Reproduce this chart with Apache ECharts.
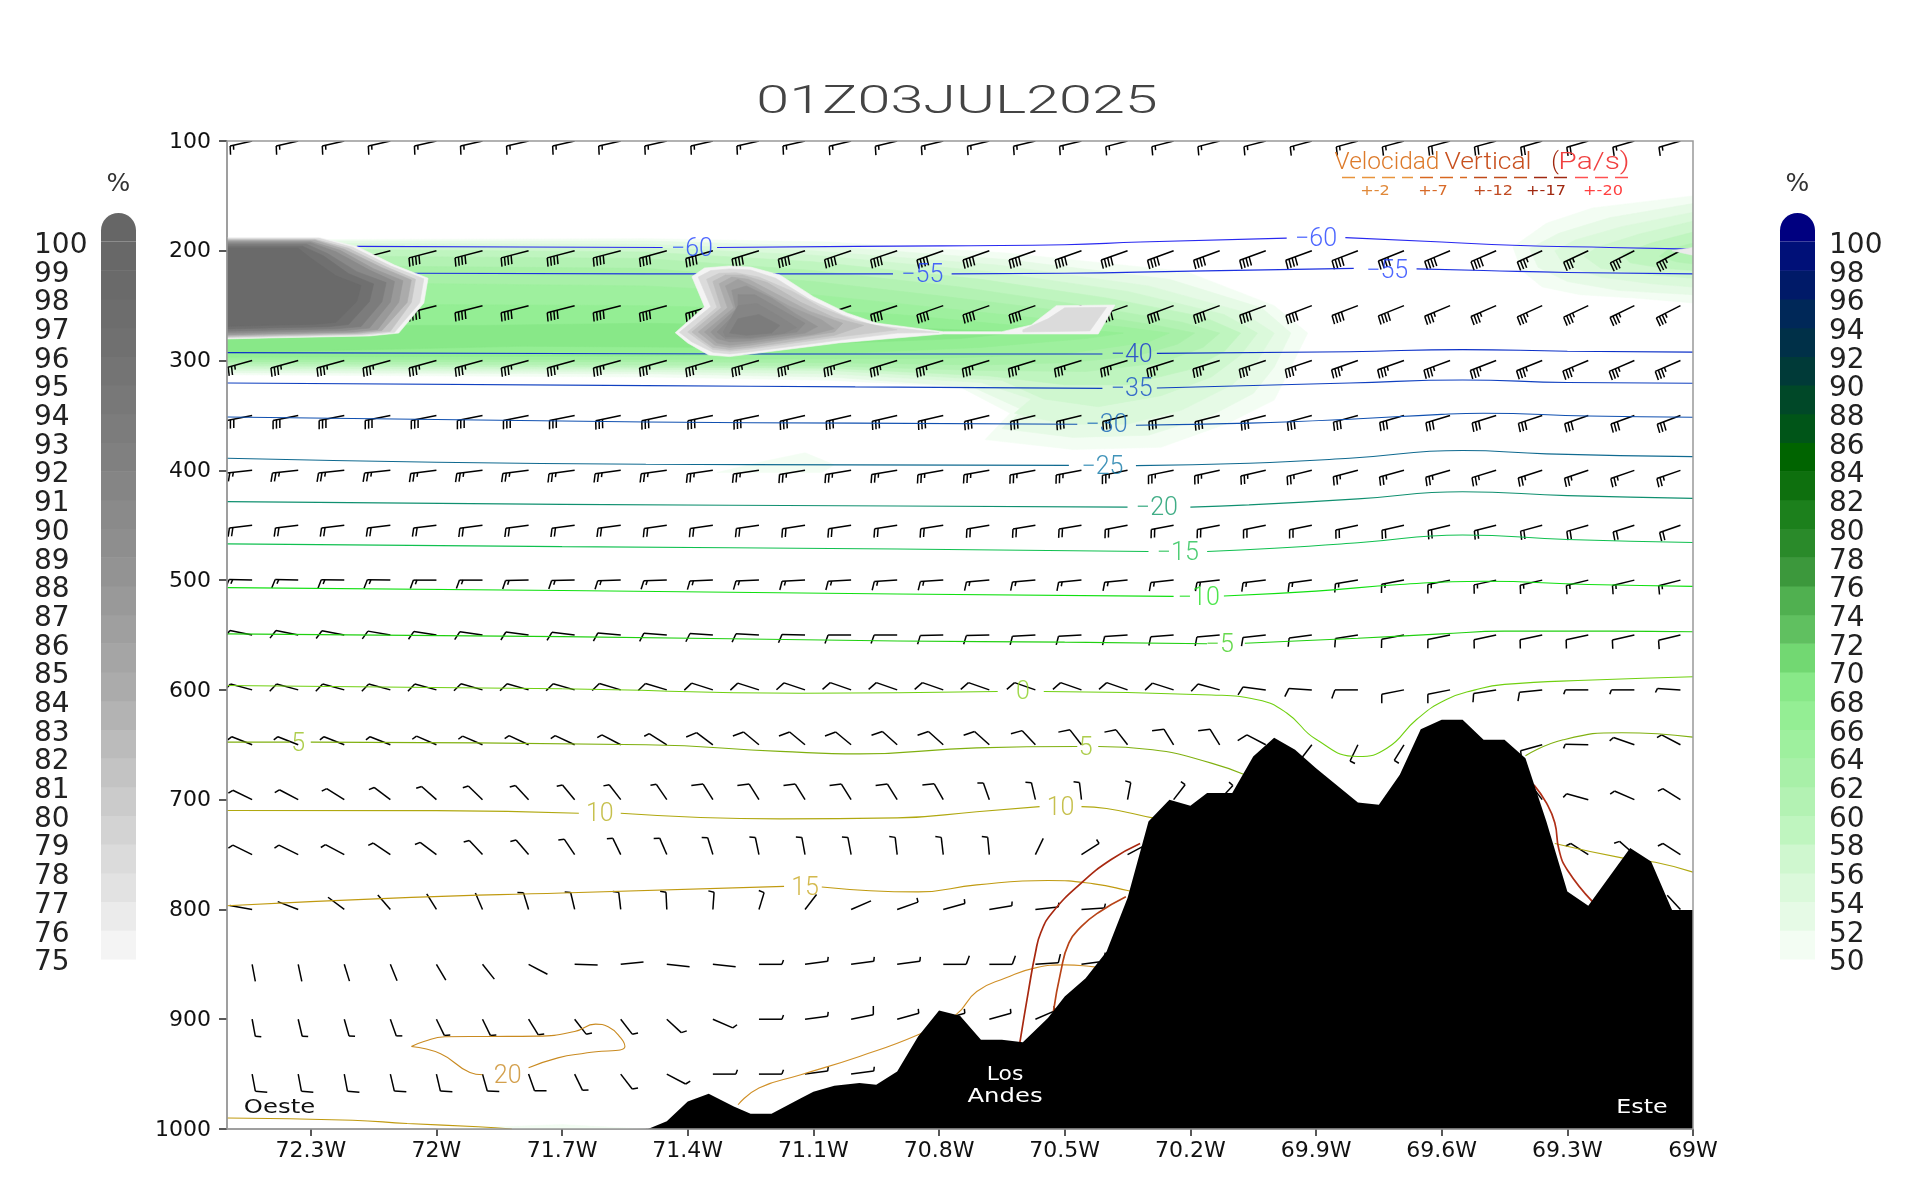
<!DOCTYPE html>
<html><head><meta charset="utf-8"><title>01Z03JUL2025</title>
<style>html,body{margin:0;padding:0;background:#fff}#c{width:1920px;height:1200px}</style>
<script src="https://cdn.jsdelivr.net/npm/echarts@6/dist/echarts.min.js"></script>
</head><body><div id="c"></div>
<script>
const titleText = '01Z03JUL2025';
const xTicks = [-72.3,-72,-71.7,-71.4,-71.1,-70.8,-70.5,-70.2,-69.9,-69.6,-69.3,-69];
const grayLegendValues = [75,76,77,78,79,80,81,82,83,84,85,86,87,88,89,90,91,92,93,94,95,96,97,98,99,100];
const grayLegendColors = ['#f4f4f4','#ebebeb','#e2e2e2','#dbdbdb','#d3d3d3','#cbcbcb','#c3c3c3','#bbbbbb','#b3b3b3','#ababab','#a5a5a5','#9f9f9f','#999999','#939393','#8e8e8e','#8a8a8a','#858585','#808080','#7c7c7c','#787878','#747474','#707070','#6d6d6d','#6a6a6a','#686868','#666666'];
const rhLegendValues = [50,52,54,56,58,60,62,64,66,68,70,72,74,76,78,80,82,84,86,88,90,92,94,96,98,100];
const rhLegendColors = ['#f3fdf3','#e6fae6','#dbf9db','#cff7cf','#bff5bf','#b3f2b3','#a8f0a8','#9ef09e','#94ee94','#88e888','#72d872','#60c060','#50b050','#3c983c','#2a8a2a','#1c801c','#0e700e','#006400','#005518','#004828','#003a38','#003048','#002858','#001a68','#001078','#000080'];

// filled relative-humidity contours [lon, hPa]
const rh50 = [[-72.5,190],[-71.5,189],[-71.06,192],[-70.64,202],[-70.21,219],[-70,250],[-69.92,275],[-69.96,306],[-70,336],[-70.11,357],[-70.27,379],[-70.48,381],[-70.69,372],[-70.63,348],[-70.75,324],[-71.06,318],[-71.49,315],[-72.5,313]];
const rh52 = [[-72.5,191],[-71.5,191],[-71.06,196],[-70.64,208],[-70.25,226],[-70.03,252],[-69.96,275],[-70,306],[-70.05,330],[-70.15,350],[-70.3,368],[-70.48,370],[-70.65,362],[-70.6,345],[-70.72,324],[-71.06,315],[-71.5,312],[-72.5,311]];
const rh54 = [[-72.5,193],[-71.5,194],[-71.1,200],[-70.66,213],[-70.3,232],[-70.08,255],[-70,275],[-70.04,300],[-70.1,322],[-70.22,345],[-70.35,358],[-70.5,358],[-70.62,348],[-70.58,335],[-70.7,320],[-71.06,312],[-71.5,310],[-72.5,309]];
const rh56 = [[-72.5,195],[-71.5,197],[-71.1,204],[-70.68,219],[-70.35,237],[-70.12,258],[-70.04,275],[-70.08,295],[-70.15,315],[-70.27,332],[-70.42,342],[-70.55,335],[-70.65,318],[-71.06,309],[-71.5,308],[-72.5,307]];
const rh58 = [[-72.5,198],[-71.5,201],[-71.1,210],[-70.7,226],[-70.4,243],[-70.17,260],[-70.08,275],[-70.12,292],[-70.2,308],[-70.35,322],[-70.5,322],[-70.68,314],[-71.06,307],[-71.5,306],[-72.5,305]];
const rh60 = [[-72.5,204],[-71.5,207],[-71.1,218],[-70.75,233],[-70.45,250],[-70.22,265],[-70.13,275],[-70.17,288],[-70.27,302],[-70.45,310],[-70.7,309],[-71.06,305],[-71.5,304],[-72.5,303]];
const rh62 = [[-72.5,213],[-71.5,216],[-71.1,228],[-70.8,241],[-70.5,255],[-70.28,268],[-70.19,275],[-70.23,285],[-70.33,296],[-70.5,302],[-70.7,304],[-71.06,302],[-71.5,301],[-72.5,301]];
const rh64 = [[-72.5,228],[-71.5,232],[-71.1,240],[-70.85,250],[-70.55,262],[-70.35,270],[-70.25,275],[-70.3,283],[-70.5,294],[-70.8,298],[-71.5,299],[-72.5,299]];
const rh66 = [[-72.5,248],[-71.5,250],[-71.1,254],[-70.9,258],[-70.65,267],[-70.45,272],[-70.36,275],[-70.45,280],[-70.7,288],[-71,293],[-71.5,296],[-72.5,297]];
const rh68 = [[-72.5,268],[-71.9,268],[-71.5,266],[-71.2,268],[-70.9,270],[-70.6,274],[-70.75,280],[-71.3,288],[-71.8,287],[-72.5,293]];
const rhEast50 = [[-69,150],[-69.24,161],[-69.35,175],[-69.43,196.5],[-69.41,217.5],[-69.36,233],[-69.27,240],[-69.14,243],[-69,247.5]];
const rhEast52 = [[-69,157],[-69.2,170],[-69.32,184],[-69.39,198],[-69.37,215],[-69.3,228],[-69.18,236],[-69,240]];
const rhEast54 = [[-69,165],[-69.17,178],[-69.28,190],[-69.33,200],[-69.31,212],[-69.22,224],[-69.1,230],[-69,233]];
const rhEast56 = [[-69,173],[-69.13,185],[-69.23,197],[-69.26,205],[-69.22,216],[-69.1,222],[-69,225]];
const rhEast58 = [[-69,183],[-69.1,193],[-69.17,203],[-69.15,211],[-69.07,216],[-69,218]];
const rhEast60 = [[-69,193],[-69.06,199],[-69.08,205],[-69.04,210],[-69,212]];
const rhSmall50 = [[-71.33,402],[-71.22,392],[-71.12,384],[-71.05,395],[-71.08,402]];
const rhBottom50 = [[-72,1000],[-71.7,996],[-71.5,1000]];

// gray (high level) cloud contours [lon, hPa]
const west75 = [[-72.5,188],[-72.28,188],[-72.19,196],[-72.1,213],[-72.02,225],[-72.03,247.5],[-72.09,275],[-72.16,277.6],[-72.4,279.4],[-72.5,280.3]];
const west78 = [[-72.5,188.7],[-72.28,188.7],[-72.2,196.8],[-72.11,213.7],[-72.03,225.5],[-72.04,247.4],[-72.1,274.3],[-72.17,276.8],[-72.4,278.6],[-72.5,279.5]];
const west81 = [[-72.5,189.6],[-72.29,189.6],[-72.21,197.7],[-72.12,214.6],[-72.05,226],[-72.06,247.2],[-72.11,273.4],[-72.18,275.9],[-72.4,277.6],[-72.5,278.5]];
const west84 = [[-72.5,190.4],[-72.29,190.4],[-72.22,198.6],[-72.13,215.4],[-72.06,226.6],[-72.07,247.1],[-72.13,272.6],[-72.19,275],[-72.4,276.6],[-72.5,277.5]];
const west87 = [[-72.5,191.4],[-72.3,191.4],[-72.23,199.6],[-72.15,216.4],[-72.08,227.2],[-72.09,246.9],[-72.14,271.6],[-72.2,274],[-72.4,275.5],[-72.5,276.4]];
const west90 = [[-72.5,192.6],[-72.3,192.6],[-72.24,200.9],[-72.16,217.6],[-72.1,228],[-72.11,246.7],[-72.16,270.4],[-72.22,272.7],[-72.4,274.1],[-72.5,275]];
const west93 = [[-72.5,194],[-72.31,194],[-72.26,202.5],[-72.19,219],[-72.12,229],[-72.13,246.5],[-72.18,269],[-72.24,271.1],[-72.4,272.4],[-72.5,273.3]];
const west96 = [[-72.5,195.8],[-72.32,195.8],[-72.27,204.5],[-72.21,220.8],[-72.15,230.2],[-72.16,246.2],[-72.21,267.2],[-72.26,269.2],[-72.4,270.3],[-72.5,271.2]];
const west98 = [[-72.5,197.8],[-72.33,197.8],[-72.3,206.7],[-72.24,222.8],[-72.18,231.6],[-72.19,245.9],[-72.24,265.2],[-72.29,266.9],[-72.4,267.9],[-72.5,268.8]];
const mid75 = [[-71.39,223.6],[-71.36,215.7],[-71.3,213.8],[-71.25,214.8],[-71.18,222],[-71.1,241.8],[-71.02,256.6],[-70.95,265.8],[-70.79,273.7],[-70.65,273.7],[-70.58,267.6],[-70.52,250],[-70.38,249.4],[-70.42,275.8],[-70.61,275.8],[-70.79,275.8],[-71.04,284],[-71.25,294],[-71.3,296.4],[-71.35,294.9],[-71.4,284],[-71.43,274.6],[-71.36,250.9]];
const mid78 = [[-71.375,224],[-71.345,218],[-71.3,216.5],[-71.25,217.5],[-71.19,225],[-71.11,244],[-71.03,258.5],[-70.96,267.5],[-70.8,274.5],[-70.9,275],[-71.05,282],[-71.25,292],[-71.3,294],[-71.34,292.5],[-71.39,283],[-71.42,274.3],[-71.345,251]];
const patch78 = [[-70.6,272],[-70.54,262],[-70.5,252],[-70.4,251.5],[-70.44,273],[-70.6,274]];
const mid80 = [[-71.355,226],[-71.325,220.5],[-71.285,220],[-71.23,224],[-71.15,237],[-71.08,252],[-71,264],[-70.9,272],[-71.05,279],[-71.25,289.5],[-71.3,291.5],[-71.34,290],[-71.375,281],[-71.4,274],[-71.33,251.5]];
const mid82 = [[-71.34,228],[-71.31,222],[-71.27,222],[-71.21,229],[-71.13,247],[-71.05,261],[-70.98,268],[-71.05,277],[-71.25,288],[-71.3,290],[-71.34,288],[-71.37,280],[-71.39,274],[-71.32,252]];
const mid84 = [[-71.325,230],[-71.295,224],[-71.255,226],[-71.19,239],[-71.11,255],[-71.03,266],[-71.05,274],[-71.25,286],[-71.3,288],[-71.335,286],[-71.365,277],[-71.375,274],[-71.305,252]];
const mid86 = [[-71.31,232],[-71.28,226],[-71.24,233],[-71.16,250],[-71.08,263],[-71.05,271],[-71.1,276],[-71.25,284],[-71.3,286],[-71.33,284],[-71.36,274],[-71.29,252]];
const mid88 = [[-71.295,236],[-71.26,232],[-71.2,243],[-71.14,258],[-71.09,269],[-71.12,275],[-71.25,282],[-71.3,283],[-71.33,280],[-71.345,274],[-71.285,253]];
const mid90 = [[-71.28,240],[-71.24,240],[-71.18,253],[-71.12,266],[-71.14,274],[-71.25,280],[-71.31,280],[-71.33,274],[-71.28,255]];
const mid91 = [[-71.28,250],[-71.235,248],[-71.18,260],[-71.14,270],[-71.17,275],[-71.25,279],[-71.31,278],[-71.315,274]];
const mid93 = [[-71.28,262],[-71.23,258],[-71.18,268],[-71.2,275],[-71.26,277],[-71.3,275]];
const east75 = [[-69.05,200],[-69,197],[-69,204]];

// temperature contours [lon, hPa]; null = gap for a label or the terrain
const tM60 = [[-72.19,196],[-71.8,196.5],[-71.46,197],null,[-71.33,197],[-71,196],[-70.5,194.5],[-70.32,192],[-69.97,188.5],null,[-69.83,188],[-69.6,192],[-69.43,195],[-69.2,197],[-69,198.5]];
const tM55 = [[-72.06,220.5],[-71.5,221],[-71,221],[-70.91,221],null,[-70.77,221],[-70.5,220.5],[-70.2,218.5],[-69.81,216],null,[-69.66,216.5],[-69.5,218],[-69.3,219.8],[-69,221]];
const tM40 = [[-72.5,292.8],[-71.5,293.8],[-70.9,294],[-70.41,294],null,[-70.28,293.5],[-69.82,292],[-69.55,290],[-69.3,291.5],[-69,292.3]];
const tM35 = [[-72.5,320.4],[-71.5,322.8],[-71,324],[-70.41,325.3],null,[-70.28,325],[-69.82,320.5],[-69.55,317.7],[-69.3,320],[-69,320.7]];
const tM30 = [[-72.5,351.4],[-71.5,356],[-71,357],[-70.47,358],null,[-70.33,359],[-70.06,357],[-69.82,353.5],[-69.6,349],[-69.5,348],[-69.25,350.5],[-69,351.6]];
const tM25 = [[-72.5,389],[-71.5,394.5],[-71,395],[-70.49,395.5],null,[-70.33,395.7],[-70.06,393.5],[-69.82,389],[-69.55,382],[-69.35,385],[-69,387.5]];
const tM20 = [[-72.5,428.5],[-71.7,431],[-70.9,432.5],[-70.35,433.5],null,[-70.2,433.5],[-70.06,431.5],[-69.8,426],[-69.55,419.5],[-69.3,423],[-69,425.5]];
const tM15 = [[-72.5,467],[-71.7,469.5],[-70.9,471.6],[-70.3,474],null,[-70.16,474],[-70,471],[-69.8,466],[-69.55,458.9],[-69.3,463],[-69,465.8]];
const tM10 = [[-72.5,506.8],[-71.7,509.5],[-70.9,512.6],[-70.24,514.8],null,[-70.12,514.5],[-69.9,510],[-69.7,504],[-69.5,501],[-69.25,504],[-69,505.7]];
const tM5 = [[-72.5,549],[-71.7,551.5],[-70.9,555.4],[-70.5,556.5],[-70.16,558],null,[-70.07,557.5],[-69.8,553],[-69.6,549],[-69.45,546.5],[-69.2,546.5],[-69,547]];
const t0 = [[-72.5,596],[-71.7,599],[-71.13,603],[-70.66,601.5],null,[-70.55,601.5],[-70.15,604.6],[-70.04,609],[-69.97,621],[-69.9,645],[-69.8,660.7],[-69.73,653],[-69.66,627],[-69.59,609],[-69.52,600],[-69.45,595],[-69.24,591],[-69,588]];
const t5 = [[-72.5,647.6],[-72.35,647.6],null,[-72.3,647.6],[-71.5,650],[-71.18,656],[-70.99,658.3],[-70.71,652.8],[-70.47,651.6],null,[-70.42,651.6],[-70.29,654.6],[-70.15,666.7],[-70.07,677.4],null,[-69.4,660],[-69.31,645.5],[-69.17,639],[-69,643]];
const t10 = [[-72.5,709.9],[-72,710],[-71.66,712.4],null,[-71.56,712.4],[-71.18,717.5],[-70.9,716.6],[-70.71,711],[-70.56,706.3],null,[-70.46,706.3],[-70.4,708],[-70.29,716.6],[-70.22,722],null,[-69.33,740],[-69.17,753],[-69.09,757],[-69,766]];
const t15 = [[-72.5,796.7],[-72.06,789],[-71.7,785],[-71.17,779],null,[-71.08,779.5],[-70.85,784],[-70.71,777.6],[-70.54,773.6],[-70.43,776.7],[-70.35,782.8],[-70.32,786]];
const t20Loop = [[-72.06,924.9],[-72.03,920.3],[-71.98,916],[-71.88,915.7],[-71.76,915.4],[-71.67,911.2],[-71.62,904.5],[-71.59,906.9],[-71.56,917],[-71.55,924.9],[-71.64,930.6],[-71.71,935.2],[-71.78,944.3],null,[-71.89,950.6],[-71.92,948.5],[-71.99,931.5],[-72.06,924.9]];
const t20Low = [[-72.5,990],[-72.2,992],[-72.07,995],[-71.9,998],[-71.82,1000]];
const t20Andes = [[-71.28,977.9],[-71.23,962.6],[-71.13,950.6],[-70.99,933.9],[-70.85,914.2],[-70.76,896],[-70.71,874.7],[-70.64,862.3],[-70.57,853.2],[-70.5,850.5],[-70.43,852.3],[-70.42,853]];

// vertical velocity contours
const omegaWest = [[-70.607,921],[-70.586,873],[-70.57,839.7],[-70.557,821],[-70.53,803],[-70.46,775.8],[-70.39,754.8],[-70.32,740]];
const omegaWest2 = [[-70.527,893],[-70.51,857.8],[-70.49,830.4],[-70.46,815.5],[-70.42,803],[-70.354,788.5]];
const omegaEast = [[-69.38,686.5],[-69.35,703],[-69.33,721],[-69.32,745.7],[-69.3,764],[-69.24,792.8]];

const terrain = [[-71.495,1000],[-71.45,993],[-71.4,975],[-71.35,968],[-71.29,979.5],[-71.25,986],[-71.2,986],[-71.13,972],[-71.1,966],[-71.05,960.7],[-70.99,958],[-70.95,959.8],[-70.9,947.6],[-70.85,915.7],[-70.8,892],[-70.75,896.9],[-70.7,918.8],[-70.65,918.8],[-70.6,921],[-70.54,898.9],[-70.5,879.4],[-70.45,862.6],[-70.4,838.3],[-70.35,789.5],[-70.3,720],[-70.25,700],[-70.2,705.6],[-70.16,694],[-70.1,694],[-70.05,660.7],[-70,643.7],[-69.95,654.6],[-69.9,671.3],[-69.8,702.6],[-69.75,704.7],[-69.7,677.4],[-69.65,635.8],[-69.6,627.3],[-69.55,627.3],[-69.5,645.5],[-69.45,645.5],[-69.4,662.2],[-69.35,720],[-69.3,783.7],[-69.25,796.7],[-69.15,744],[-69.1,756.4],[-69.05,800.4],[-69,800.4]];

const contourLabels = [
 ['−60',-71.39,197,'#2040ff'],['−60',-69.9,188,'#2040ff'],['−55',-70.84,221,'#2040ff'],['−55',-69.73,217,'#2040ff'],
 ['−40',-70.34,294,'#1030d0'],['−35',-70.34,325,'#1048c8'],['−30',-70.4,358,'#1060b8'],['−25',-70.41,396,'#1078a8'],
 ['−20',-70.28,433,'#109868'],['−15',-70.23,474,'#20c050'],['−10',-70.18,515,'#20e020'],['−5',-70.13,558,'#40d020'],
 ['0',-70.6,601,'#88d020'],['5',-72.33,648,'#98c020'],['5',-70.45,651.6,'#98c020'],['10',-71.61,712,'#b8b020'],
 ['10',-70.51,706,'#b8b020'],['15',-71.12,779,'#c8a820'],['20',-71.83,950.6,'#c88820']
];

// wind barbs: station longitudes and pressures, direction (deg) and speed (kt) per row
const windLon = [-72.44,-72.33,-72.22,-72.11,-72,-71.89,-71.78,-71.67,-71.56,-71.45,-71.34,-71.23,-71.12,-71.01,-70.9,-70.79,-70.68,-70.57,-70.46,-70.35,-70.24,-70.13,-70.02,-69.91,-69.8,-69.69,-69.58,-69.47,-69.36,-69.25,-69.14,-69.03];
const windLevels = [100,200,250,300,350,400,450,500,550,600,650,700,750,800,850,900,950];
const dir100 = [253,253,253,253,253,253,253,253,253,253,253,253,253,252,252,252,252,252,252,251,251,251,251,250,250,250,250,250,249,249,249,249];
const spd100 = [15,15,15,15,15,15,15,15,15,15,15,15,15,15,15,15,15,15,15,15,15,15,15,15,15,15,20,20,20,20,15,15];
const dir200 = [251,251,251,251,251,251,251,251,251,250,249,248,247,246,246,245,245,245,245,245,244,244,244,244,243,242,241,240,239,238,236,235];
const spd200 = [40,40,40,40,40,40,40,40,40,40,40,40,40,40,40,40,40,40,40,40,40,40,40,40,40,40,40,40,35,35,35,35];
const dir250 = [251,251,251,251,251,251,251,251,251,250,249,248,247,246,246,245,245,245,245,245,244,244,244,243,243,242,241,240,239,238,237,236];
const spd250 = [40,40,40,40,40,40,40,40,40,40,40,40,40,40,40,40,40,40,40,40,40,40,40,40,40,40,35,35,35,35,35,35];
const dir300 = [250,250,250,250,250,250,250,250,250,250,249,249,249,249,248,248,248,248,248,248,247,247,246,246,245,245,244,243,242,241,240,240];
const spd300 = [35,35,35,35,35,35,35,35,35,35,35,35,35,35,35,35,35,35,35,35,35,35,35,35,35,35,35,35,35,35,35,35];
const dir350 = [255,255,255,255,255,255,255,255,254,254,254,254,253,253,253,253,252,252,252,252,252,251,251,250,250,249,248,247,246,245,244,243];
const spd350 = [30,30,30,30,30,30,30,30,30,30,30,30,30,30,30,30,30,30,30,30,30,30,30,30,30,30,30,30,30,30,30,30];
const dir400 = [262,262,262,262,261,261,261,260,260,260,259,259,258,258,258,257,257,256,256,255,255,254,253,252,251,250,249,248,247,246,245,245];
const spd400 = [25,25,25,25,25,25,25,25,25,25,25,25,25,25,25,25,25,25,25,25,25,25,25,25,25,25,25,25,25,25,25,25];
const dir450 = [261,261,261,261,261,260,260,260,260,259,259,259,258,258,258,258,257,257,257,256,256,256,255,255,254,253,252,251,250,249,247,245];
const spd450 = [20,20,20,20,20,20,20,20,20,20,20,20,20,20,20,20,20,20,20,20,20,20,20,20,20,20,20,20,20,20,20,20];
const dir500 = [272,272,271,271,270,270,269,269,268,268,267,267,266,266,265,265,264,264,263,263,262,262,261,260,258,256,255,254,253,252,252,251];
const spd500 = [15,15,15,15,15,15,15,15,15,15,15,15,15,15,15,15,15,15,15,15,15,15,15,15,15,15,15,15,15,15,15,15];
const dir550 = [285,285,284,283,282,281,280,279,277,276,275,274,272,270,270,268,268,266,266,265,264,263,262,260,258,256,255,254,254,254,253,252];
const spd550 = [10,10,10,10,10,10,10,10,10,10,10,10,10,10,10,10,10,10,10,10,10,10,10,10,10,10,10,10,10,10,10,10];
const dir600 = [290,290,290,290,290,291,291,291,292,292,293,293,294,295,295,295,295,295,295,295,293,290,280,275,270,255,255,258,262,270,270,275];
const spd600 = [10,10,10,10,10,10,10,10,10,10,10,10,10,10,10,10,10,10,10,10,10,10,10,10,10,10,10,10,10,5,5,5];
const dir650 = [298,298,298,298,300,300,302,302,305,310,315,318,318,318,320,320,320,325,330,330,335,335,305,210,200,205,null,null,250,272,295,305];
const spd650 = [5,5,5,5,5,5,5,5,5,5,10,10,10,10,10,10,10,10,10,10,10,10,10,5,5,5,null,null,5,5,5,5];
const dir700 = [303,305,310,315,320,322,325,328,330,333,335,335,335,335,335,337,345,350,355,8,30,35,null,null,null,null,null,null,330,290,300,310];
const spd700 = [5,5,5,5,5,5,5,5,5,5,10,10,10,10,10,10,5,5,5,5,5,5,null,null,null,null,null,null,5,5,5,5];
const dir750 = [303,303,305,312,315,325,327,333,340,342,347,351,352,352,355,355,356,20,50,55,null,null,null,null,null,null,null,null,null,310,320,310];
const spd750 = [5,5,5,5,5,5,5,5,5,5,5,5,5,5,5,5,5,2,5,5,null,null,null,null,null,null,null,null,null,5,5,5];
const dir800 = [283,297,315,327,335,342,347,350,355,358,3,13,30,60,65,70,78,82,85,null,null,null,null,null,null,null,null,null,null,null,null,325];
const spd800 = [2,2,2,2,2,2,5,5,5,5,5,5,2,2,5,5,5,5,5,null,null,null,null,null,null,null,null,null,null,null,null,2];
const dir850 = [172,171,167,163,156,149,125,92,82,98,98,90,80,80,80,90,90,85,80,null,null,null,null,null,null,null,null,null,null,null,null,null];
const spd850 = [2,2,2,2,2,2,2,2,2,2,2,5,5,5,5,10,10,10,10,null,null,null,null,null,null,null,null,null,null,null,null,null];
const dir900 = [172,170,168,165,160,160,155,150,150,141,120,90,80,75,70,70,70,60,null,null,null,null,null,null,null,null,null,null,null,null,null,null];
const spd900 = [5,5,5,5,5,5,5,5,5,5,5,5,5,10,5,5,5,5,null,null,null,null,null,null,null,null,null,null,null,null,null,null];
const dir950 = [172,172,172,170,170,168,165,160,150,125,90,90,80,80,null,null,null,null,null,null,null,null,null,null,null,null,null,null,null,null,null,null];
const spd950 = [10,10,10,10,10,10,10,5,5,5,5,5,5,5,null,null,null,null,null,null,null,null,null,null,null,null,null,null,null,null,null,null];

const windDir = [dir100,dir200,dir250,dir300,dir350,dir400,dir450,dir500,dir550,dir600,dir650,dir700,dir750,dir800,dir850,dir900,dir950];
const windSpd = [spd100,spd200,spd250,spd300,spd350,spd400,spd450,spd500,spd550,spd600,spd650,spd700,spd750,spd800,spd850,spd900,spd950];

const greenShapes = [[rh50,50],[rh52,52],[rh54,54],[rh56,56],[rh58,58],[rh60,60],[rh62,62],[rh64,64],[rh66,66],[rh68,68],[rhEast50,50],[rhEast52,52],[rhEast54,54],[rhEast56,56],[rhEast58,58],[rhEast60,60],[rhSmall50,50],[rhBottom50,50]];
const grayShapes = [[west75,75],[west78,78],[west81,81],[west84,84],[west87,87],[west90,90],[west93,93],[west96,96],[west98,98],[mid75,75],[patch78,78],[mid78,78],[mid80,80],[mid82,82],[mid84,84],[mid86,86],[mid88,88],[mid90,90],[mid91,91],[mid93,93],[east75,76]];

const chart = echarts.init(document.getElementById('c'));
const FONT = '"DejaVu Sans"';
const LIGHT = 'Roboto';
const L = {left:227, top:141, width:1466, height:988};

function polySeries(shapes, values, colors, z){
  return {type:'custom', xAxisIndex:0, yAxisIndex:0, z, silent:true, clip:true, animation:false,
    data: shapes.map((s,i)=>[i]),
    renderItem(params, api){
      const sh = shapes[api.value(0)];
      const col = colors[values.indexOf(sh[1])];
      return {type:'polygon', shape:{points:sh[0].map(p=>api.coord(p))}, style:{fill:col, stroke:col, lineWidth:0.6}};
    }};
}
function lineSeries(name,data,color,width,z){
  return {type:'line', name, data, z, silent:true, showSymbol:false, smooth:0.5, connectNulls:false, animation:false,
    lineStyle:{color,width:width||1.1}, xAxisIndex:0, yAxisIndex:0};
}
const barbData = [];
windLevels.forEach((p,r)=>windLon.forEach((lon,i)=>{
  if(windDir[r][i]!==null) barbData.push([lon,p,windDir[r][i],windSpd[r][i]]);
}));
function renderBarb(params, api){
  const c = api.coord([api.value(0),api.value(1)]);
  const phi = api.value(2)*Math.PI/180, kt = api.value(3);
  const full = Math.floor(kt/10), half = kt%10>=5?1:0, n = full+half;
  const S = n<=2 ? 23 : 23+3*(n-2);
  const vx = S*Math.sin(phi), vy = -0.75*S*Math.cos(phi);
  const ex = c[0]+vx, ey = c[1]+vy;
  const psi = phi-75*Math.PI/180;
  const st = {stroke:'#000', lineWidth:1.5, fill:null};
  const kids = [{type:'line', shape:{x1:c[0],y1:c[1],x2:ex,y2:ey}, style:st}];
  for(let k=0;k<n;k++){
    const frac = k<full ? 1 : 0.5;
    const t = k*3.5/S;
    const bx = ex-vx*t, by = ey-vy*t;
    kids.push({type:'line', shape:{x1:bx,y1:by,x2:bx+12*frac*Math.sin(psi),y2:by-8.8*frac*Math.cos(psi)}, style:st});
  }
  return {type:'group', children:kids};
}
function legendSeries(values,colors,step,xi,yi){
  return {type:'custom', xAxisIndex:xi, yAxisIndex:yi, silent:true, animation:false,
    data: values.map((v,i)=>[v,i]),
    renderItem(params, api){
      const v=api.value(0), top = api.value(1)===values.length-1;
      const a=api.coord([0,v]), b=api.coord([1,v+step]);
      const r = top ? (b[0]-a[0])/2 : 0;
      return {type:'rect', shape:{x:a[0],y:b[1],width:b[0]-a[0],height:a[1]-b[1]+(top?0:0.5),r:[r,r,0,0]}, style:{fill:colors[api.value(1)]}};
    }};
}
function txt(text,x,y,size,fill,scaleX,align,family,weight){
  return {type:'text', x, y, scaleX:scaleX||1, z:100, silent:true,
    style:{text, x:0, y:0, align:align||'center', verticalAlign:'middle', fill:fill, font:(weight||'normal')+' '+size+'px '+(family||FONT)}};
}
function dash(x1,x2,color){
  return {type:'line', z:100, silent:true, shape:{x1,y1:177.5,x2,y2:177.5}, style:{stroke:color,lineWidth:1.4,lineDash:[13,7]}};
}

const series = [
  polySeries(greenShapes, rhLegendValues, rhLegendColors, 1),
  {type:'custom', xAxisIndex:0, yAxisIndex:0, z:2, silent:true, clip:true, animation:false, data:barbData, renderItem:renderBarb},
  lineSeries('-60',tM60,'#2828f0',1.1,3), lineSeries('-55',tM55,'#1c30e0',1.1,3),
  lineSeries('-40',tM40,'#0c30c8',1.1,3), lineSeries('-35',tM35,'#1040c0',1.1,3),
  lineSeries('-30',tM30,'#1050b0',1.1,3), lineSeries('-25',tM25,'#106a90',1.1,3),
  lineSeries('-20',tM20,'#109070',1.1,3), lineSeries('-15',tM15,'#10c050',1.1,3),
  lineSeries('-10',tM10,'#10e010',1.1,3), lineSeries('-5',tM5,'#20d010',1.1,3),
  lineSeries('0',t0,'#70d010',1.1,3), lineSeries('5',t5,'#80b010',1.1,3),
  lineSeries('10',t10,'#b0a810',1.1,3), lineSeries('15',t15,'#c09a10',1.1,3),
  lineSeries('20a',t20Loop,'#c98a20',1.1,3), lineSeries('20b',t20Low,'#c09a10',1.1,3), lineSeries('20c',t20Andes,'#d09028',1.1,3),
  lineSeries('w1',omegaWest,'#a82810',1.7,3), lineSeries('w2',omegaWest2,'#b84418',1.7,3), lineSeries('w3',omegaEast,'#b03018',1.7,3),
  polySeries(grayShapes, grayLegendValues, grayLegendColors, 4),
  {type:'line', data:terrain, z:5, silent:true, showSymbol:false, smooth:false, animation:false,
   lineStyle:{width:0}, areaStyle:{color:'#000', opacity:1, origin:'end'}, xAxisIndex:0, yAxisIndex:0},
  {type:'scatter', z:6, silent:true, animation:false, symbolSize:0, xAxisIndex:0, yAxisIndex:0,
   data: contourLabels.map(d=>({name:d[0], value:[d[1],d[2]], label:{color:d[3]}})),
   label:{show:true, position:'inside', offset:[0,2], formatter:'{b}', fontFamily:LIGHT, fontWeight:300, fontSize:25}},
  legendSeries(grayLegendValues,grayLegendColors,1,1,1),
  legendSeries(rhLegendValues,rhLegendColors,2,2,2)
];

chart.setOption({
  animation:false,
  backgroundColor:'#fff',
  grid:[
    {left:L.left, top:L.top, width:L.width, height:L.height, show:true, borderColor:'#999', borderWidth:1.5, backgroundColor:'transparent', z:20},
    {left:101, top:212.9, width:35, height:746.1},
    {left:1780, top:212.9, width:35, height:746.1}
  ],
  xAxis:[
    {gridIndex:0, type:'value', min:-72.5, max:-69, splitLine:{show:false}, axisLine:{show:true,lineStyle:{color:'#999',width:1.5}},
     axisTick:{show:true, length:7, customValues:xTicks, lineStyle:{color:'#222',width:1.5}},
     axisLabel:{show:true, customValues:xTicks, margin:11, fontFamily:FONT, fontSize:22, color:'#111', formatter:v=>Math.abs(v)+'W'}},
    {gridIndex:1, type:'value', min:0, max:1, position:'top', name:'%', nameLocation:'middle', nameGap:16, nameTextStyle:{fontFamily:FONT,fontSize:25,color:'#333'},
     axisLine:{show:false}, axisTick:{show:false}, axisLabel:{show:false}, splitLine:{show:false}},
    {gridIndex:2, type:'value', min:0, max:1, position:'top', name:'%', nameLocation:'middle', nameGap:16, nameTextStyle:{fontFamily:FONT,fontSize:25,color:'#333'},
     axisLine:{show:false}, axisTick:{show:false}, axisLabel:{show:false}, splitLine:{show:false}}
  ],
  yAxis:[
    {gridIndex:0, type:'value', inverse:true, min:100, max:1000, interval:100, splitLine:{show:false},
     axisLine:{show:true,lineStyle:{color:'#999',width:1.5}}, axisTick:{show:true,length:8,lineStyle:{color:'#222',width:1.5}},
     axisLabel:{show:true, margin:16, verticalAlign:'top', lineHeight:2, fontFamily:FONT, fontSize:22, color:'#111', formatter:v=>String(v)}},
    {gridIndex:1, type:'value', min:75, max:101, interval:1, position:'left', axisLine:{show:false}, axisTick:{show:false}, splitLine:{show:false},
     axisLabel:{show:true, margin:67, align:'left', verticalAlign:'top', lineHeight:8, fontFamily:FONT, fontSize:28, color:'#222', formatter:v=>v>100?'':String(v)}},
    {gridIndex:2, type:'value', min:50, max:102, interval:2, position:'right', axisLine:{show:false}, axisTick:{show:false}, splitLine:{show:false},
     axisLabel:{show:true, margin:14, align:'left', verticalAlign:'top', lineHeight:8, fontFamily:FONT, fontSize:28, color:'#222', formatter:v=>v>100?'':String(v)}}
  ],
  graphic:[
    txt(titleText,957,103,39,'#444',1.52,'center',LIGHT,'300'),
    txt('Oeste',279.5,1108,19,'#111',1.28),
    txt('Los',1005,1075,19,'#fff',1.15),
    txt('Andes',1005,1097,19,'#fff',1.28),
    txt('Este',1642,1108,19,'#fff',1.25),
    txt('Velocidad',1387,163,24,'#dd7a2a',1.02,'center',LIGHT,'300'),
    txt('Vertical',1488,163,24,'#c8501e',1.1,'center',LIGHT,'300'),
    txt('(',1555,163,24,'#a02810',1,'center',LIGHT,'300'),
    txt('Pa/s)',1594,163,24,'#f04040',1.25,'center',LIGHT,'300'),
    dash(1342,1413,'#e8943c'), dash(1420,1467,'#d86820'), dash(1474,1527,'#c04a18'), dash(1534,1567,'#a02810'), dash(1575,1630,'#ff5050'),
    txt('+-2',1375,191.5,14,'#e08838',1.15), txt('+-7',1433,191.5,14,'#d86a28',1.15), txt('+-12',1493,191.5,14,'#c04a20',1.15), txt('+-17',1546,191.5,14,'#a02810',1.15), txt('+-20',1603,191.5,14,'#ff4040',1.15)
  ],
  series
});
</script></body></html>
